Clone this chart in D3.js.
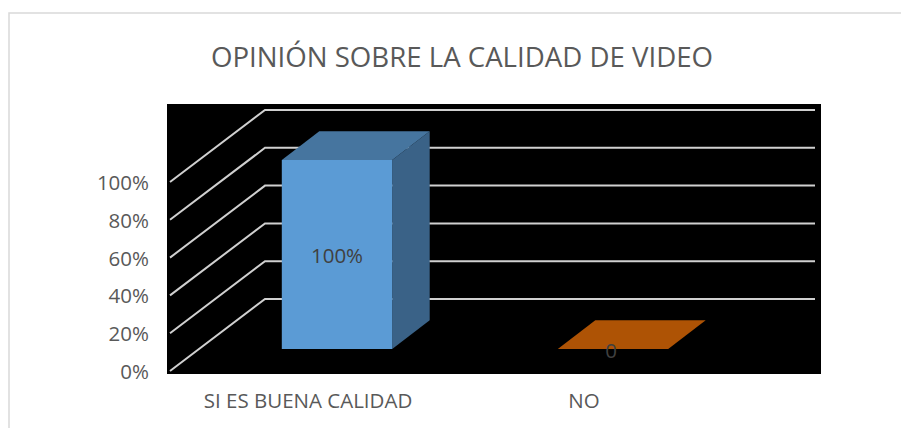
<!DOCTYPE html>
<html>
<head>
<meta charset="utf-8">
<script src="https://cdn.jsdelivr.net/npm/d3@7"></script>
<style>
  html, body { margin: 0; padding: 0; background: #fff; }
  text { font-family: "Open Sans", sans-serif; }
</style>
</head>
<body>
<div id="chart"></div>
<script>
const title = 'OPINIÓN SOBRE LA CALIDAD DE VIDEO';
const categories = ['SI ES BUENA CALIDAD', 'NO'];
const values = [1, 0];
const valueLabels = ['100%', '0'];
const tickValues = [0, 0.2, 0.4, 0.6, 0.8, 1];
const barColors = [
  {front: '#5b9bd5', top: '#46759f', side: '#3a6287'},
  {front: '#c55a11', top: '#ae5305', side: '#8a4208'},
];

const svg = d3
  .select('#chart')
  .append('svg')
  .attr('width', 901)
  .attr('height', 428)
  .style('display', 'block');

// outer chart frame, runs off the right and bottom of the picture
svg
  .append('rect')
  .attr('x', 9)
  .attr('y', 13)
  .attr('width', 920)
  .attr('height', 440)
  .attr('fill', '#fff')
  .attr('stroke', '#d9d9d9')
  .attr('stroke-width', 1.5);

svg
  .append('text')
  .attr('x', 462)
  .attr('y', 67)
  .attr('text-anchor', 'middle')
  .attr('font-size', 28)
  .attr('textLength', 502)
  .attr('lengthAdjust', 'spacingAndGlyphs')
  .attr('fill', '#595959')
  .text(title);

// plot area
svg
  .append('rect')
  .attr('x', 167)
  .attr('y', 104)
  .attr('width', 654)
  .attr('height', 270)
  .attr('fill', '#000');

// depth of the 3d box
const depthX = 37.5;
const depthY = 28.7;

const x = d3
  .scaleBand()
  .domain(categories)
  .range([199, 751])
  .paddingInner(0.6)
  .paddingOuter(0.3);

// y of the wall gridlines, the front of the bars sits lower
const yWall = d3.scaleLinear().domain([0, 1]).range([299, 110]);
const yFront = d3.scaleLinear().domain([0, 1]).range([349, 160]);
const yLeft = d3.scaleLinear().domain([0, 1]).range([371, 182]);

svg
  .append('g')
  .selectAll('path')
  .data(tickValues)
  .enter()
  .append('path')
  .attr('d', d => `M170,${yLeft(d)}L265,${yWall(d)}H815`)
  .attr('fill', 'none')
  .attr('stroke', '#d0d0d0')
  .attr('stroke-width', 2);

const bar = svg
  .append('g')
  .selectAll('g')
  .data(categories)
  .enter()
  .append('g');

bar
  .append('path')
  .attr('fill', (d, i) => barColors[i].side)
  .attr('d', (d, i) => {
    const r = x(d) + x.bandwidth();
    return `M${r},${yFront(values[i])}l${depthX},${-depthY}V${yFront(0) - depthY}L${r},${yFront(0)}Z`;
  });

bar
  .append('path')
  .attr('fill', (d, i) => barColors[i].top)
  .attr('d', (d, i) => {
    const t = yFront(values[i]);
    return `M${x(d)},${t}l${depthX},${-depthY}h${x.bandwidth()}l${-depthX},${depthY}Z`;
  });

bar
  .append('rect')
  .attr('x', d => x(d))
  .attr('y', (d, i) => yFront(values[i]))
  .attr('width', x.bandwidth())
  .attr('height', (d, i) => yFront(0) - yFront(values[i]))
  .attr('fill', (d, i) => barColors[i].front);

bar
  .append('text')
  .attr('x', (d, i) => x(d) + x.bandwidth() / 2 - (i ? 2 : 0))
  .attr('y', (d, i) => (i ? 358 : 263))
  .attr('text-anchor', 'middle')
  .attr('font-size', 20.5)
  .attr('fill', '#404040')
  .text((d, i) => valueLabels[i]);

const axis = svg
  .append('g')
  .attr('transform', 'translate(149,1)')
  .call(
    d3
      .axisLeft(yLeft)
      .tickValues(tickValues)
      .tickFormat(d3.format('.0%'))
      .tickSize(0)
      .tickPadding(0),
  );
axis.select('.domain').remove();
axis
  .selectAll('text')
  .attr('font-size', 20.5)
  .attr('font-family', '"Open Sans", sans-serif')
  .attr('fill', '#595959');

svg
  .append('g')
  .selectAll('text')
  .data(categories)
  .enter()
  .append('text')
  .attr('x', d => x(d) + x.bandwidth() / 2 - 29)
  .attr('y', 408)
  .attr('text-anchor', 'middle')
  .attr('font-size', 20.5)
  .attr('fill', '#595959')
  .text(d => d);
</script>
</body>
</html>
